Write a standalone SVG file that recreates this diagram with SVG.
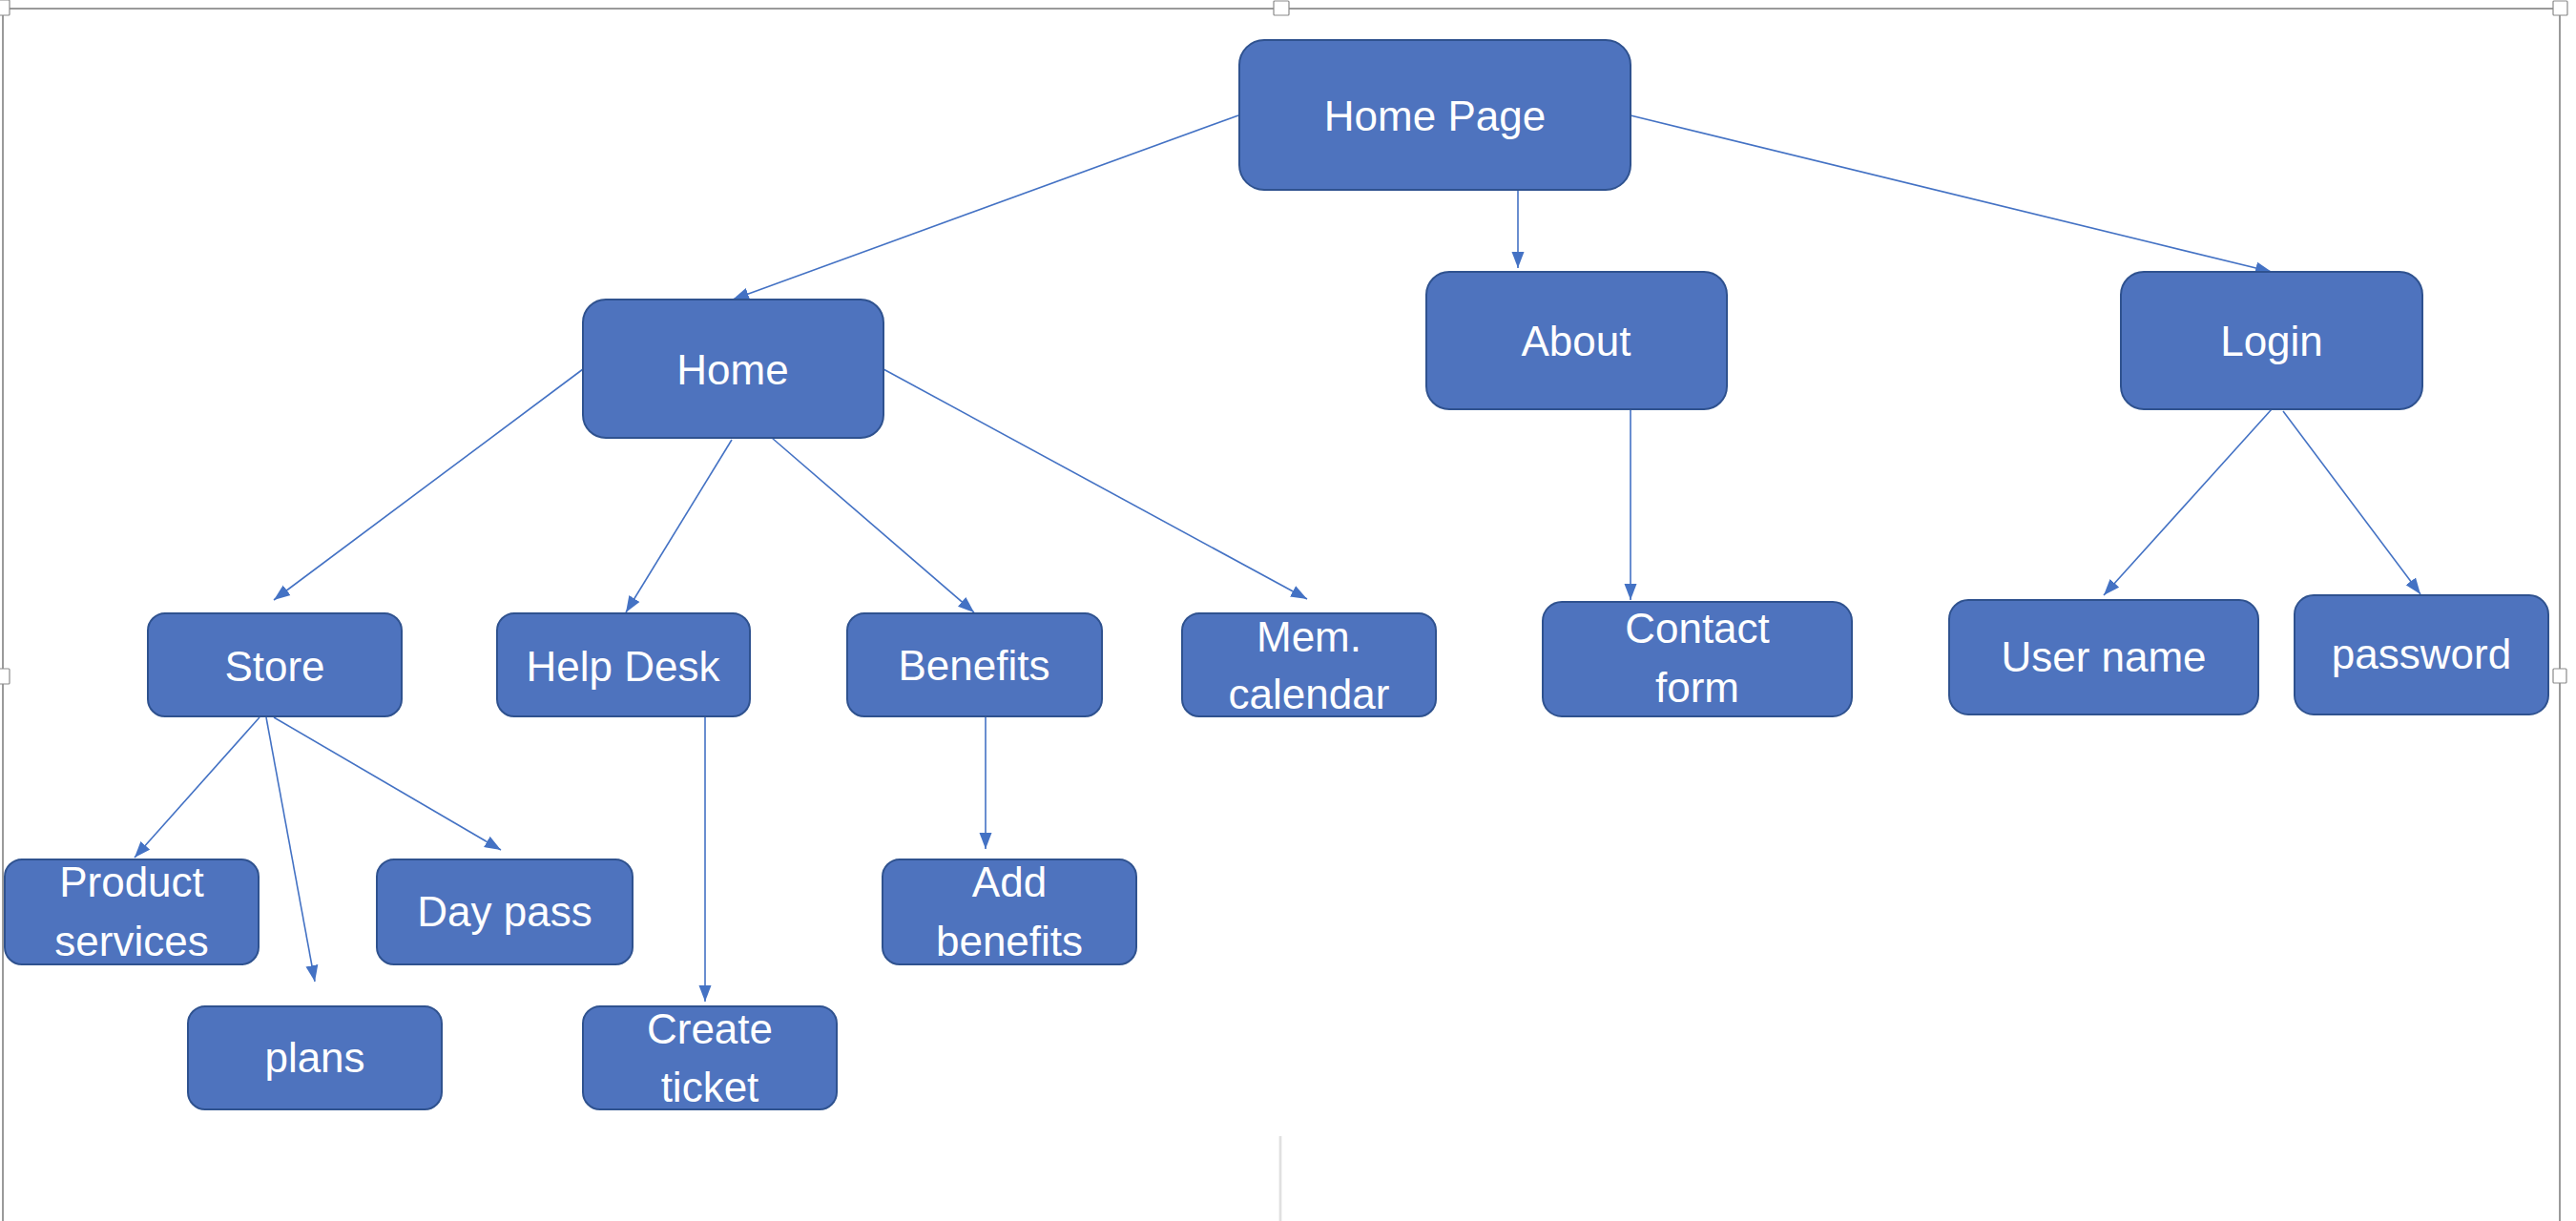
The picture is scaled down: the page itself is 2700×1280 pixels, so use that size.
<svg xmlns="http://www.w3.org/2000/svg" width="2700" height="1280" viewBox="0 0 2700 1280">
<style>
.node rect{fill:#4E73BE;stroke:#2F528F;stroke-width:2}
.node text{fill:#FFFFFF;font-family:"Liberation Sans",Arial,sans-serif;font-size:44px;text-anchor:middle}
.edge{stroke:#4472C4;stroke-width:1.6;fill:none;marker-end:url(#arrow)}
.frame{stroke:#9A9A9A;stroke-width:2;fill:none}
.handle{fill:#FFFFFF;stroke:#8A8A8A;stroke-width:1.2}
</style>
<defs>
<marker id="arrow" markerUnits="userSpaceOnUse" markerWidth="18" markerHeight="14" refX="17" refY="7" orient="auto">
<path d="M0,0.5 L17,7 L0,13.5 z" fill="#4472C4"/>
</marker>
</defs>
<rect width="2700" height="1280" fill="#FFFFFF"/>
<g id="frame">
<line class="frame" x1="0" y1="9" x2="2683" y2="9"/>
<line class="frame" x1="3" y1="9" x2="3" y2="1280"/>
<line class="frame" x1="2683" y1="9" x2="2683" y2="1280"/>
<line x1="1342" y1="1191" x2="1342" y2="1280" stroke="#E0E0E0" stroke-width="2.7"/>
<rect class="handle" x="-2" y="0" width="12" height="16" rx="1"/>
<rect class="handle" x="1335" y="1" width="16" height="15" rx="1"/>
<rect class="handle" x="2676" y="1" width="15" height="15" rx="1"/>
<rect class="handle" x="-2" y="701" width="12" height="16" rx="1"/>
<rect class="handle" x="2676" y="701" width="14" height="15" rx="1"/>
</g>
<g id="connectors">
<line class="edge" x1="1298" y1="121" x2="768" y2="314"/>
<line class="edge" x1="1591" y1="199" x2="1591" y2="281"/>
<line class="edge" x1="1709" y1="121" x2="2381" y2="285"/>
<line class="edge" x1="611" y1="387" x2="287" y2="629"/>
<line class="edge" x1="767" y1="461" x2="656" y2="642"/>
<line class="edge" x1="809" y1="459" x2="1021" y2="642"/>
<line class="edge" x1="926" y1="387" x2="1370" y2="628"/>
<line class="edge" x1="1709" y1="429" x2="1709" y2="629"/>
<line class="edge" x1="2381" y1="429" x2="2205" y2="624"/>
<line class="edge" x1="2393" y1="431" x2="2537" y2="623"/>
<line class="edge" x1="272" y1="752" x2="141" y2="899"/>
<line class="edge" x1="279" y1="752" x2="330" y2="1029"/>
<line class="edge" x1="287" y1="752" x2="525" y2="891"/>
<line class="edge" x1="739" y1="751" x2="739" y2="1050"/>
<line class="edge" x1="1033" y1="751" x2="1033" y2="890"/>
</g>
<g id="home-page" class="node"><rect x="1299" y="42" width="410" height="157" rx="26"/><text x="1504" y="137">Home Page</text></g>
<g id="home" class="node"><rect x="611" y="314" width="315" height="145" rx="24"/><text x="768" y="403">Home</text></g>
<g id="about" class="node"><rect x="1495" y="285" width="315" height="144" rx="24"/><text x="1652" y="373">About</text></g>
<g id="login" class="node"><rect x="2223" y="285" width="316" height="144" rx="24"/><text x="2381" y="373">Login</text></g>
<g id="store" class="node"><rect x="155" y="643" width="266" height="108" rx="18"/><text x="288" y="714">Store</text></g>
<g id="help-desk" class="node"><rect x="521" y="643" width="265" height="108" rx="18"/><text x="653" y="714">Help Desk</text></g>
<g id="benefits" class="node"><rect x="888" y="643" width="267" height="108" rx="18"/><text x="1021" y="713">Benefits</text></g>
<g id="mem-calendar" class="node"><rect x="1239" y="643" width="266" height="108" rx="18"/><text x="1372" y="683">Mem.</text><text x="1372" y="743">calendar</text></g>
<g id="contact-form" class="node"><rect x="1617" y="631" width="324" height="120" rx="20"/><text x="1779" y="674">Contact</text><text x="1779" y="736">form</text></g>
<g id="user-name" class="node"><rect x="2043" y="629" width="324" height="120" rx="20"/><text x="2205" y="704">User name</text></g>
<g id="password" class="node"><rect x="2405" y="624" width="266" height="125" rx="20"/><text x="2538" y="701">password</text></g>
<g id="product-services" class="node"><rect x="5" y="901" width="266" height="110" rx="18"/><text x="138" y="940">Product</text><text x="138" y="1002">services</text></g>
<g id="day-pass" class="node"><rect x="395" y="901" width="268" height="110" rx="18"/><text x="529" y="971">Day pass</text></g>
<g id="add-benefits" class="node"><rect x="925" y="901" width="266" height="110" rx="18"/><text x="1058" y="940">Add</text><text x="1058" y="1002">benefits</text></g>
<g id="plans" class="node"><rect x="197" y="1055" width="266" height="108" rx="18"/><text x="330" y="1124">plans</text></g>
<g id="create-ticket" class="node"><rect x="611" y="1055" width="266" height="108" rx="18"/><text x="744" y="1094">Create</text><text x="744" y="1155">ticket</text></g>
</svg>
